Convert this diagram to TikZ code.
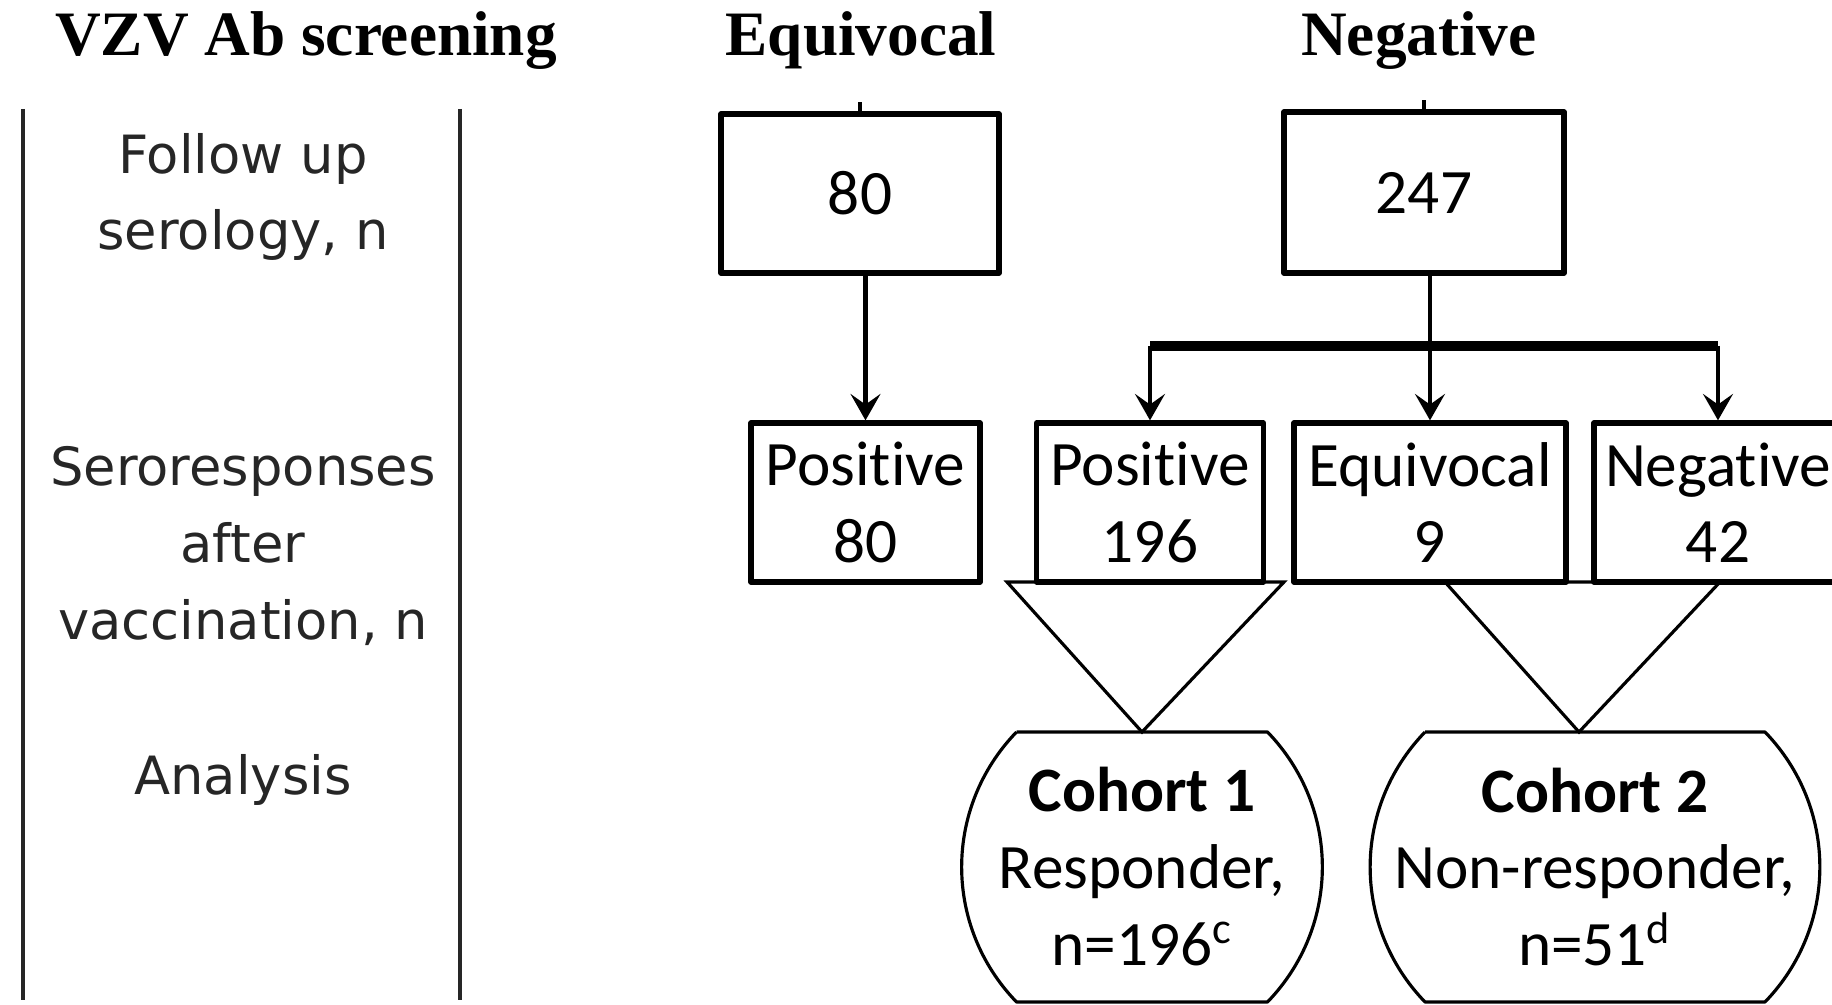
\documentclass[tikz,border=0pt]{standalone}
\usepackage{fontspec}
\setmainfont{Liberation Serif}
\newfontfamily\boxfont[Ligatures=NoCommon]{Carlito}
\newfontfamily\sidefont{DejaVu Sans}
\usetikzlibrary{arrows.meta,calc}

\tikzset{
  head/.style={font=\bfseries\fontsize{18}{22}\selectfont},
  side/.style={align=center, inner sep=0pt, text=black!85,
    font=\sidefont\fontsize{15}{21.8}\selectfont},
  box/.style={draw, line width=1.5pt, inner sep=0pt, align=center,
    font=\boxfont\fontsize{18}{21.7}\selectfont},
  srbox/.style={box, minimum height=1.59cm},
  cohort/.style={inner sep=0pt, align=center,
    font=\boxfont\fontsize{18}{21.9}\selectfont},
  conn/.style={line width=1.4pt,
    -{Stealth[length=7.5pt,width=8.5pt,inset=3pt]}},
  bar/.style={line width=2.8pt},
  funnel/.style={line width=0.9pt, line join=miter},
  frame/.style={line width=0.9pt},
  sideline/.style={line width=0.9pt, black!85}
}

\begin{document}
\begin{tikzpicture}[
  line join=round
]
  \useasboundingbox (0,0) rectangle (18.32,-10.05);
  \clip (0,0) rectangle (18.32,-10.05);

  % Column headings
  \node[head, anchor=base] (hScr) at (3.06,-0.56) {VZV Ab screening};
  \node[head, anchor=base] (hEqu) at (8.61,-0.56) {Equivocal};
  \node[head, anchor=base] (hNeg) at (14.19,-0.56) {Negative};

  % Row labels
  \draw[sideline] (0.23,-1.09) -- (0.23,-10.0);
  \draw[sideline] (4.60,-1.09) -- (4.60,-10.0);

  \node[side] (rFol) at (2.43,-1.97) {Follow up\\serology, n};
  \node[side] (rSer) at (2.43,-5.46) {Seroresponses\\after\\vaccination, n};
  \node[side] (rAna) at (2.43,-7.80) {Analysis};

  % Follow up serology
  \node[box, minimum width=2.78cm, minimum height=1.59cm]
    (fuEq) at (8.60,-1.935) {80};
  \node[box, minimum width=2.80cm, minimum height=1.61cm]
    (fuNeg) at (14.24,-1.925) {247};

  \draw[line width=1.2pt] (fuEq.north) -- ++(0,0.09);
  \draw[line width=1.2pt] (fuNeg.north) -- ++(0,0.09);

  % Seroresponses after vaccination
  \node[srbox, minimum width=2.29cm] (srP80) at (8.655,-5.025) {Positive\\80};
  \node[srbox, minimum width=2.27cm] (srP196) at (11.50,-5.025) {Positive\\196};
  \node[srbox, minimum width=2.72cm] (srE9) at (14.30,-5.025) {Equivocal\\9};
  \node[srbox, minimum width=2.48cm] (srN42) at (17.18,-5.025) {Negative\\42};

  \draw[conn] (srP80.north |- fuEq.south) -- (srP80.north);

  \coordinate (split) at (14.30,-3.46);
  \draw[bar] (srP196.north |- split) -- (srN42.north |- split);
  \draw[conn] (srE9.north |- fuNeg.south) -- (srE9.north);
  \draw[conn] (srP196.north |- split) -- (srP196.north);
  \draw[conn] (srN42.north |- split) -- (srN42.north);

  % Analysis
  \node[cohort] (coA) at (11.42,-8.67)
    {\textbf{Cohort 1}\\Responder,\\n=196\textsuperscript{c}};
  \node[cohort] (coB) at (15.95,-8.67)
    {\textbf{Cohort 2}\\Non-responder,\\n=51\textsuperscript{d}};

  \draw[frame]
    ($(coA)+(-1.255,1.35)$) -- ($(coA)+(1.255,1.35)$)
    to[bend left=44] ($(coA)+(1.255,-1.35)$)
    -- ($(coA)+(-1.255,-1.35)$)
    to[bend left=44] ($(coA)+(-1.255,1.35)$);

  \draw[frame]
    ($(coB)+(-1.70,1.35)$) -- ($(coB)+(1.70,1.35)$)
    to[bend left=44] ($(coB)+(1.70,-1.35)$)
    -- ($(coB)+(-1.70,-1.35)$)
    to[bend left=44] ($(coB)+(-1.70,1.35)$);

  % Funnels into the cohorts
  \coordinate (apA) at ($(coA)+(0,1.35)$);
  \coordinate (apB) at ($(coB)+(-0.16,1.35)$);

  \draw[funnel] (10.07,-5.82) -- (apA) -- (12.84,-5.82) -- cycle;
  \draw[funnel] (14.45,-5.82) -- (apB) -- (17.20,-5.82) -- cycle;
\end{tikzpicture}
\end{document}
